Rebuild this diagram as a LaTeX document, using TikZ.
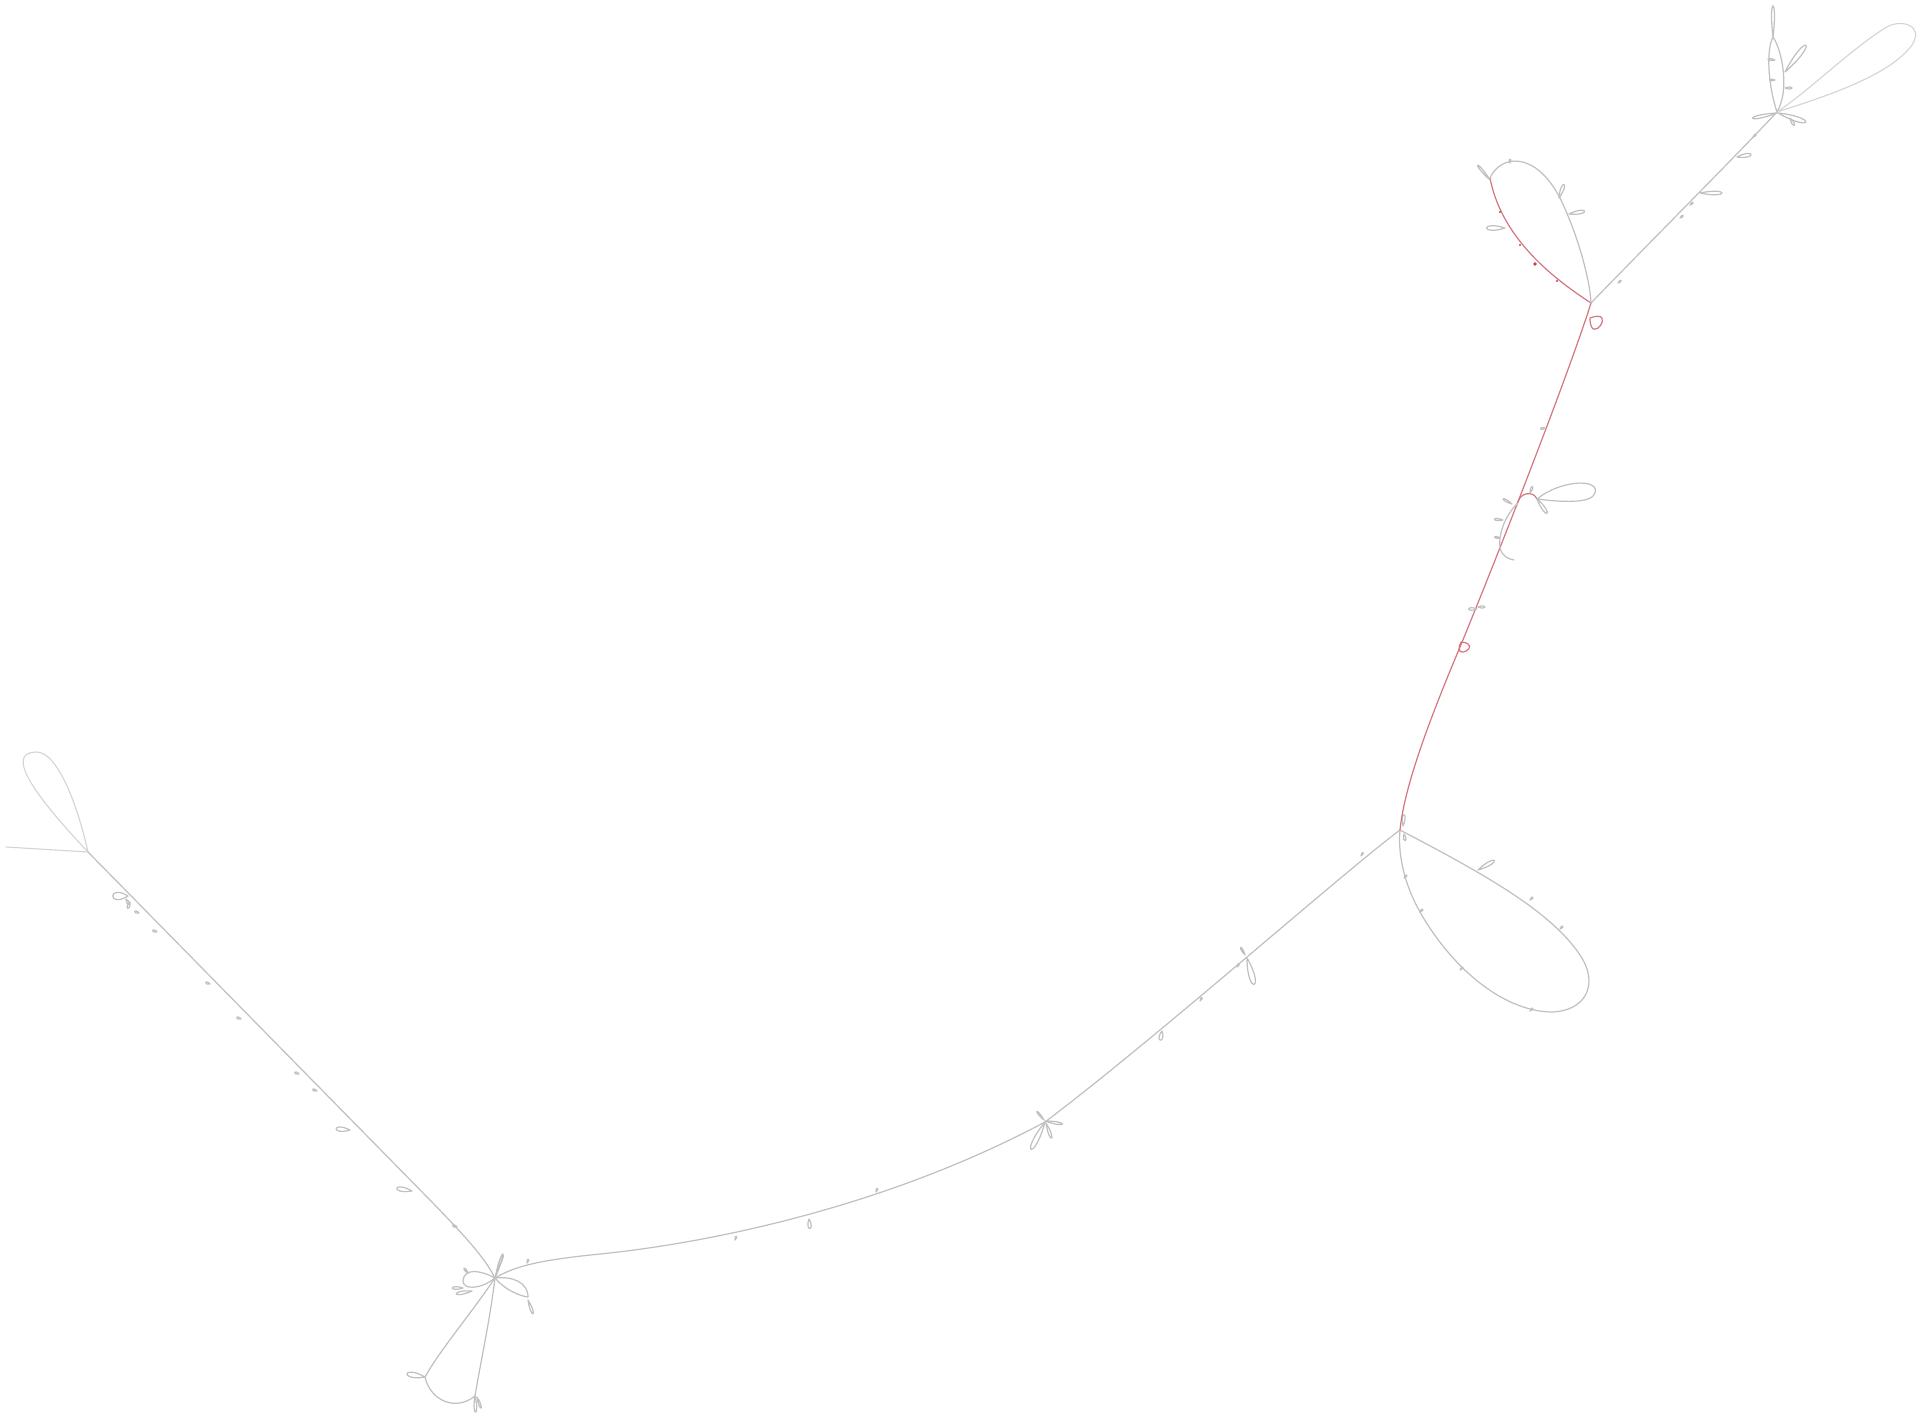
\documentclass[tikz,border=0pt]{standalone}
\definecolor{stemgray}{RGB}{192,192,192}
\definecolor{lightgray2}{RGB}{212,212,212}
\definecolor{stemred}{RGB}{212,118,128}
\definecolor{dotred}{RGB}{205,60,75}
\tikzset{
  stem/.style={draw=stemgray,line width=1.2pt,line join=round,line cap=round},
  faint/.style={draw=lightgray2,line width=1.1pt,line join=round,line cap=round},
  redstem/.style={draw=stemred,line width=1.2pt,line join=round,line cap=round},
}
\newcommand{\petal}[5]{\draw[stem] (#1,#2) .. controls +(#3-#5:#4) and +(#3+#5:#4) .. (#1,#2);}
\newcommand{\rdot}[2]{\fill[dotred] (#1,#2) circle (1.1);}
\begin{document}
\begin{tikzpicture}[x=1pt,y=-1pt]
\useasboundingbox[fill=white] (0,0) rectangle (1922,1416);
% tail and top-left loop
\draw[faint] (6,847) -- (88,852);
\draw[faint] (88,852) .. controls (20,780) and (10,752) .. (37,752) .. controls (60,753) and (80,815) .. (88,852);
% left stem
\draw[stem] (88,852) -- (430,1200) .. controls (465,1236) and (485,1258) .. (495,1278);
\petal{128}{896}{180}{24}{32}
\petal{130}{902}{110}{10}{25}
\petal{126}{899}{60}{9}{25}
\petal{350}{1130}{185}{20}{22}
\petal{412}{1191}{190}{22}{20}
\foreach \p/\q in {139/913,157/932,210/984,241/1019,299/1074,317/1091,457/1227}{\petal{\p}{\q}{200}{7}{30}}
% bottom junction
\petal{495}{1278}{-72}{34}{6}
\petal{497}{1270}{-68}{22}{10}
\draw[stem] (495,1278) .. controls (480,1270) and (465,1268) .. (463,1280) .. controls (462,1290) and (480,1290) .. (495,1278);
\petal{463}{1288}{180}{15}{18}
\petal{472}{1291}{170}{22}{14}
\petal{468}{1273}{-130}{9}{20}
\draw[stem] (495,1278) .. controls (512,1276) and (528,1282) .. (528,1297) .. controls (520,1296) and (505,1290) .. (495,1278);
\petal{528}{1300}{70}{20}{12}
\draw[stem] (495,1278) .. controls (470,1315) and (440,1350) .. (425,1377) .. controls (430,1400) and (455,1412) .. (475,1396);
\draw[stem] (495,1278) .. controls (490,1320) and (480,1365) .. (475,1396);
\petal{425}{1377}{190}{26}{20}
\petal{475}{1396}{88}{22}{12}
\petal{477}{1397}{70}{16}{12}
% long curve to middle junction
\draw[stem] (495,1278) .. controls (515,1266) and (540,1260) .. (600,1254) .. controls (700,1244) and (880,1210) .. (1045,1122);
\petal{809}{1219}{85}{14}{25}
\foreach \p/\q in {527/1263,735/1240,876/1192}{\petal{\p}{\q}{-70}{6}{30}}
% middle junction petals
\petal{1045}{1122}{117}{42}{12}
\petal{1046}{1123}{70}{22}{12}
\petal{1045}{1121}{10}{24}{10}
\petal{1044}{1120}{-130}{15}{10}
% stem to right junction
\draw[stem] (1045,1122) .. controls (1160,1035) and (1340,875) .. (1400,830);
\petal{1162}{1031}{100}{14}{28}
\petal{1247}{958}{75}{38}{15}
\petal{1245}{955}{-120}{12}{14}
\foreach \p/\q in {1361/856,1200/1001,1237/967}{\petal{\p}{\q}{-60}{6}{30}}
% big right loop
\draw[stem] (1400,830) .. controls (1480,872) and (1550,910) .. (1580,955) .. controls (1600,985) and (1585,1012) .. (1550,1012) .. controls (1500,1010) and (1450,965) .. (1420,912) .. controls (1402,880) and (1398,850) .. (1400,830);
\petal{1478}{870}{-30}{26}{14}
\foreach \p/\q in {1530/900,1560/929,1530/1011,1460/970,1420/912,1404/878}{\petal{\p}{\q}{-45}{6}{30}}
\petal{1403}{826}{-85}{16}{18}
\petal{1404}{834}{80}{10}{25}
% red stem
\draw[redstem] (1400,830) .. controls (1404,790) and (1425,730) .. (1460,647) .. controls (1500,550) and (1570,370) .. (1591,303);
\draw[redstem] (1461,642) .. controls +(5:24) and +(115:24) .. (1461,642);
\petal{1477}{609}{180}{12}{22}
\petal{1478}{607}{0}{10}{22}
\petal{1545}{428}{170}{7}{30}
% middle cluster on red stem
\draw[redstem] (1518,502) .. controls (1520,493) and (1533,490) .. (1537,499);
\draw[stem] (1537,499) .. controls (1560,480) and (1600,478) .. (1595,493) .. controls (1592,504) and (1560,502) .. (1537,499);
\petal{1537}{499}{55}{24}{14}
\petal{1530}{493}{-70}{10}{20}
\draw[stem] (1518,503) .. controls (1505,515) and (1498,535) .. (1500,548) .. controls (1502,556) and (1508,559) .. (1514,560);
\petal{1512}{504}{-150}{14}{14}
\petal{1503}{520}{185}{12}{18}
\petal{1500}{538}{190}{8}{22}
% red loop below top junction
\draw[redstem] (1590,318) .. controls +(-20:30) and +(90:30) .. (1590,318);
% top-left loop
\draw[redstem] (1591,303) .. controls (1540,270) and (1500,230) .. (1490,178);
\draw[stem] (1490,178) .. controls (1500,155) and (1535,150) .. (1560,198) .. controls (1578,235) and (1590,280) .. (1591,303);
\petal{1490}{180}{-130}{26}{8}
\petal{1505}{228}{180}{26}{18}
\petal{1559}{198}{-70}{20}{16}
\petal{1569}{214}{-10}{22}{16}
\petal{1510}{163}{-90}{6}{30}
\fill[dotred] (1535,264) circle (1.8);
\rdot{1557}{281}
\rdot{1500}{212}
\rdot{1520}{245}
% stem to top right
\draw[stem] (1591,303) .. controls (1650,242) and (1730,162) .. (1777,112);
\petal{1737}{157}{-10}{20}{18}
\petal{1700}{193}{0}{30}{12}
\foreach \p/\q in {1690/205,1680/218,1753/137,1618/283}{\petal{\p}{\q}{-40}{6}{30}}
% top-right cluster
\draw[stem] (1777,112) .. controls (1768,85) and (1766,50) .. (1773,37) .. controls (1782,50) and (1790,90) .. (1777,112);
\petal{1773}{37}{-90}{42}{7}
\petal{1785}{72}{-52}{46}{11}
\petal{1775}{60}{185}{10}{20}
\petal{1785}{88}{0}{10}{20}
\petal{1775}{80}{180}{8}{20}
\draw[faint] (1777,112) .. controls (1830,95) and (1890,75) .. (1912,45) .. controls (1925,25) and (1900,18) .. (1885,28) .. controls (1850,50) and (1810,90) .. (1777,112);
\petal{1777}{113}{168}{34}{9}
\petal{1778}{113}{18}{40}{12}
\petal{1790}{118}{60}{12}{20}
\end{tikzpicture}
\end{document}
